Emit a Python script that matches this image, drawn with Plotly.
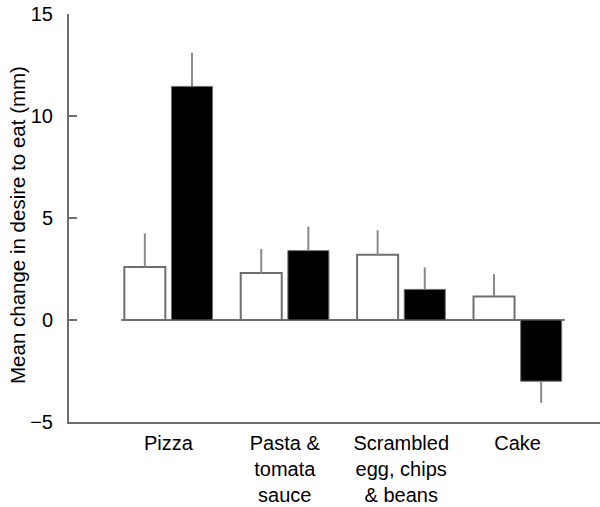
import plotly.graph_objects as go

# Food categories and mean change in desire to eat (mm) for the two conditions
categories = ["Pizza", "Pasta &<br>tomata<br>sauce", "Scrambled<br>egg, chips<br>& beans", "Cake"]
open_means = [2.6, 2.3, 3.2, 1.15]
open_sem = [1.65, 1.18, 1.2, 1.1]
filled_means = [11.45, 3.4, 1.5, -3.0]
filled_sem = [1.65, 1.18, 1.08, 1.06]
y_ticks = [-5, 0, 5, 10, 15]

FONT = "Liberation Sans, Arial, sans-serif"
EDGE = "#6e6e6e"
BARGAP = 0.19


def one_sided(means, sem):
    """Error bars only in the direction the bar points."""
    up = [s if m >= 0 else 0 for m, s in zip(means, sem)]
    down = [s if m < 0 else 0 for m, s in zip(means, sem)]
    return dict(type="data", symmetric=False, array=up, arrayminus=down,
                color="#8a8a8a", thickness=2, width=0)


fig = go.Figure()
fig.add_trace(go.Bar(
    x=categories, y=open_means, name="open",
    marker=dict(color="white", line=dict(color=EDGE, width=2)),
    error_y=one_sided(open_means, open_sem),
))
fig.add_trace(go.Bar(
    x=categories, y=filled_means, name="filled",
    marker=dict(color="black", line=dict(color=EDGE, width=1)),
    error_y=one_sided(filled_means, filled_sem),
))

# baseline at zero spanning only the bar groups
half = (1 - BARGAP) / 2
fig.add_shape(type="line", xref="x", yref="y",
              x0=0 - half, x1=len(categories) - 1 + half, y0=0, y1=0,
              line=dict(color=EDGE, width=2), layer="below")

# vertical y-axis title
fig.add_annotation(
    text="Mean change in desire to eat (mm)", textangle=-90,
    xref="paper", yref="paper", x=-0.096, y=0.483,
    xanchor="center", yanchor="middle", showarrow=False,
    font=dict(family=FONT, size=20.5, color="black"),
)

fig.update_layout(
    width=600, height=507,
    margin=dict(l=69, r=0, t=14, b=85),
    paper_bgcolor="white", plot_bgcolor="white",
    barmode="group", bargap=BARGAP, bargroupgap=0.13,
    showlegend=False,
    font=dict(family=FONT, size=20, color="black"),
)
fig.update_xaxes(
    type="category", range=[-0.854, 3.708], automargin=False,
    showline=True, linecolor=EDGE, linewidth=2,
    ticks="outside", ticklen=2, tickcolor="rgba(0,0,0,0)",
    showgrid=False, zeroline=False,
    tickfont=dict(family=FONT, size=20, color="black"),
)
fig.update_yaxes(
    range=[-5, 15], tickvals=y_ticks, automargin=False,
    showline=True, linecolor=EDGE, linewidth=2,
    ticks="inside", ticklen=8, tickcolor=EDGE, tickwidth=2,
    showgrid=False, zeroline=False,
    ticklabelstandoff=10,
    tickfont=dict(family=FONT, size=20, color="black"),
)

fig.write_html("out.html")
